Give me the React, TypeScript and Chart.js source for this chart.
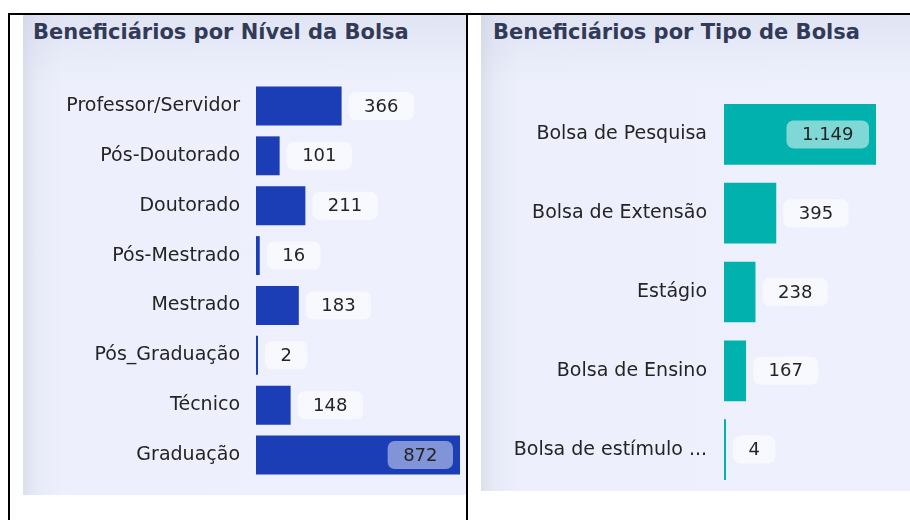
import React, { useEffect, useRef } from "react";
import { Chart, registerables } from "chart.js";

Chart.register(...registerables);

const nivelTitle = "Beneficiários por Nível da Bolsa";
const nivelLabels = [
  "Professor/Servidor",
  "Pós-Doutorado",
  "Doutorado",
  "Pós-Mestrado",
  "Mestrado",
  "Pós_Graduação",
  "Técnico",
  "Graduação",
];
const nivelValues = [366, 101, 211, 16, 183, 2, 148, 872];

const tipoTitle = "Beneficiários por Tipo de Bolsa";
const tipoLabels = [
  "Bolsa de Pesquisa",
  "Bolsa de Extensão",
  "Estágio",
  "Bolsa de Ensino",
  "Bolsa de estímulo ...",
];
const tipoValues = [1149, 395, 238, 167, 4];

const FONT = "'DejaVu Sans', Verdana, sans-serif";
const TEXT = "#252423";

function fmt(v: number): string {
  const s = String(Math.round(v));
  return s.replace(/\B(?=(\d{3})+(?!\d))/g, ".");
}

const labelBoxes = {
  id: "labelBoxes",
  afterDatasetsDraw(chart: any, _args: any, opts: any) {
    const ctx = chart.ctx;
    const meta = chart.getDatasetMeta(0);
    const data = chart.data.datasets[0].data as number[];
    ctx.save();
    ctx.font = `18px ${FONT}`;
    ctx.textAlign = "center";
    ctx.textBaseline = "middle";
    meta.data.forEach((bar: any, i: number) => {
      const text = fmt(data[i]);
      const tw = ctx.measureText(text).width;
      const bw = tw + 31;
      const bh = 28;
      const end = Math.max(bar.x, bar.base);
      let x0 = end + 7;
      let inside = false;
      if (x0 + bw > chart.chartArea.right) {
        x0 = end - 7 - bw;
        inside = true;
      }
      const y0 = bar.y - bh / 2;
      ctx.fillStyle = inside ? opts.insideFill : "rgba(255,255,255,0.55)";
      ctx.beginPath();
      (ctx as any).roundRect(x0, y0, bw, bh, 7);
      ctx.fill();
      ctx.fillStyle = TEXT;
      ctx.fillText(text, x0 + bw / 2, bar.y + 1);
    });
    ctx.restore();
  },
};

type BarProps = {
  labels: string[];
  values: number[];
  color: string;
  insideFill: string;
  width: number;
  height: number;
  axisWidth: number;
  tickPad: number;
  pad: { top: number; bottom: number; left: number; right: number };
  catPct: number;
};

function HBar(p: BarProps) {
  const ref = useRef<HTMLCanvasElement | null>(null);
  useEffect(() => {
    if (!ref.current) return;
    const chart = new Chart(ref.current, {
      type: "bar",
      data: {
        labels: p.labels,
        datasets: [
          {
            data: p.values,
            backgroundColor: p.color,
            borderWidth: 0,
            categoryPercentage: p.catPct,
            barPercentage: 1,
            minBarLength: 2,
          },
        ],
      },
      options: {
        indexAxis: "y",
        responsive: false,
        animation: false,
        layout: { padding: p.pad },
        plugins: {
          legend: { display: false },
          tooltip: { enabled: false },
          title: { display: false },
          labelBoxes: { insideFill: p.insideFill },
        } as any,
        scales: {
          x: {
            display: false,
            min: 0,
            max: Math.max(...p.values),
          },
          y: {
            grid: { display: false, drawTicks: false },
            border: { display: false },
            ticks: {
              padding: p.tickPad,
              color: TEXT,
              font: { family: FONT, size: 19 },
              autoSkip: false,
            },
            afterFit(scale: any) {
              scale.width = p.axisWidth;
              scale.paddingTop = 0;
              scale.paddingBottom = 0;
            },
          },
        },
      },
      plugins: [labelBoxes],
    });
    return () => chart.destroy();
  }, []);
  return (
    <canvas
      ref={ref}
      width={p.width}
      height={p.height}
      style={{ width: p.width, height: p.height, display: "block" }}
    />
  );
}

const panelBg =
  "linear-gradient(to bottom, rgba(200,205,225,0.35) 0px, rgba(200,205,225,0) 70px), linear-gradient(to right, #dcdfec 0px, #e7eaf7 14px, #edf0fc 40px, #eef1fd 100%)";

const titleStyle: React.CSSProperties = {
  position: "absolute",
  fontFamily: FONT,
  fontWeight: "bold",
  fontSize: 21,
  color: "#333a57",
  whiteSpace: "nowrap",
  lineHeight: "24px",
};

export default function App() {
  return (
    <div
      style={{
        position: "absolute",
        left: 0,
        top: 0,
        width: 910,
        height: 520,
        overflow: "hidden",
        background: "#ffffff",
      }}
    >
      {/* left panel */}
      <div
        style={{
          position: "absolute",
          left: 23,
          top: 15,
          width: 443,
          height: 480,
          background: panelBg,
        }}
      >
        <div style={{ ...titleStyle, left: 10, top: 5 }}>{nivelTitle}</div>
        <div style={{ position: "absolute", left: 0, top: 0 }}>
          <HBar
            labels={nivelLabels}
            values={nivelValues}
            color="#1b3db6"
            insideFill="rgba(255,255,255,0.45)"
            width={443}
            height={480}
            axisWidth={233}
            tickPad={16}
            pad={{ top: 66, bottom: 15, left: 0, right: 6 }}
            catPct={0.78}
          />
        </div>
      </div>

      {/* right panel */}
      <div
        style={{
          position: "absolute",
          left: 481,
          top: 15,
          width: 429,
          height: 476,
          background: panelBg,
        }}
      >
        <div style={{ ...titleStyle, left: 12, top: 5 }}>{tipoTitle}</div>
        <div style={{ position: "absolute", left: 0, top: 0 }}>
          <HBar
            labels={tipoLabels}
            values={tipoValues}
            color="#00b1ad"
            insideFill="rgba(255,255,255,0.5)"
            width={429}
            height={476}
            axisWidth={243}
            tickPad={17}
            pad={{ top: 80, bottom: 2, left: 0, right: 34 }}
            catPct={0.77}
          />
        </div>
      </div>

      {/* table borders */}
      <div style={{ position: "absolute", left: 8, top: 13, width: 902, height: 2, background: "#000" }} />
      <div style={{ position: "absolute", left: 8, top: 13, width: 2, height: 507, background: "#000" }} />
      <div style={{ position: "absolute", left: 466, top: 13, width: 2, height: 507, background: "#000" }} />
    </div>
  );
}
